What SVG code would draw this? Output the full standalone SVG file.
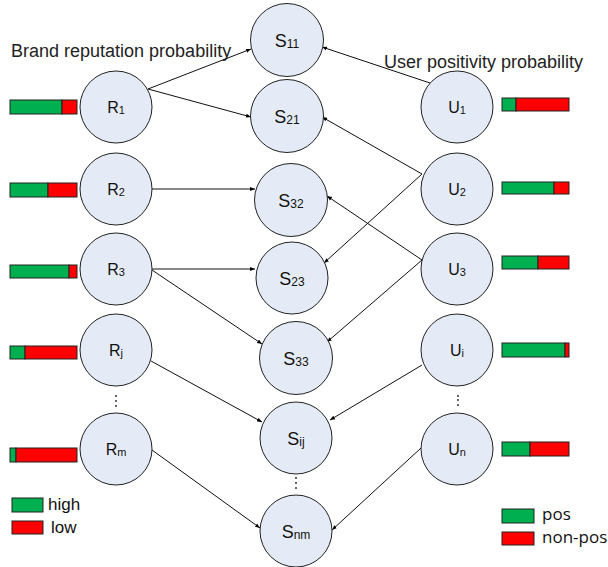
<svg xmlns="http://www.w3.org/2000/svg" width="608" height="567" viewBox="0 0 608 567">
<defs>
<marker id="ah" viewBox="0 0 10 10" refX="10" refY="5" markerWidth="5" markerHeight="5" orient="auto" markerUnits="userSpaceOnUse">
<path d="M0,1 L10,5 L0,9 Z" fill="#000"/>
</marker>
<style>
.nd{fill:#E5EBF6;stroke:#222;stroke-width:1}
.lb{font-family:"Liberation Sans",Arial,sans-serif;fill:#111;text-anchor:middle}
.sub{font-size:11px}
.subs{font-size:12px}
.ttl{font-family:"Liberation Sans",Arial,sans-serif;font-size:18px;fill:#222}
.g{fill:#00B050;stroke:#222;stroke-width:1}
.r{fill:#FF0000;stroke:#222;stroke-width:1}
.e{stroke:#111;stroke-width:1;fill:none;marker-end:url(#ah)}
.dot{fill:#333}
</style>
</defs>
<rect width="608" height="567" fill="#fff"/>
<text class="ttl" x="11" y="57">Brand reputation probability</text>
<text class="ttl" x="384" y="68">User positivity probability</text>

<g id="connectors">
<line class="e" x1="148" y1="89" x2="251" y2="49"/>
<line class="e" x1="148" y1="89" x2="251" y2="117"/>
<line class="e" x1="152" y1="189" x2="255" y2="189"/>
<line class="e" x1="430" y1="83" x2="322" y2="47"/>
<line class="e" x1="422" y1="174" x2="322" y2="117"/>
<line class="e" x1="422" y1="174" x2="324" y2="263"/>
<line class="e" x1="422" y1="260" x2="327" y2="196"/>
<line class="e" x1="422" y1="260" x2="327" y2="342"/>
<line class="e" x1="152" y1="269" x2="255" y2="269"/>
<line class="e" x1="152" y1="270" x2="262" y2="344"/>
<line class="e" x1="151" y1="361" x2="262" y2="422"/>
<line class="e" x1="152" y1="450" x2="260" y2="528"/>
<line class="e" x1="422" y1="365" x2="330" y2="420"/>
<line class="e" x1="421" y1="448" x2="332" y2="530"/>
</g>

<g id="R1"><circle class="nd" cx="116" cy="107" r="36"/><text class="lb" x="116" y="113" font-size="16">R<tspan class="sub" dy="1">1</tspan></text>
<rect class="g" x="10" y="100" width="52" height="14"/><rect class="r" x="62" y="100" width="15" height="14"/></g>
<g id="R2"><circle class="nd" cx="116" cy="189" r="36"/><text class="lb" x="116" y="195" font-size="16">R<tspan class="sub" dy="1">2</tspan></text>
<rect class="g" x="10" y="183" width="38" height="14"/><rect class="r" x="48" y="183" width="29" height="14"/></g>
<g id="R3"><circle class="nd" cx="116" cy="269" r="36"/><text class="lb" x="116" y="275" font-size="16">R<tspan class="sub" dy="1">3</tspan></text>
<rect class="g" x="10" y="265" width="59" height="13"/><rect class="r" x="69" y="265" width="8" height="13"/></g>
<g id="Rj"><circle class="nd" cx="116" cy="350" r="36"/><text class="lb" x="116" y="356" font-size="16">R<tspan class="sub" dy="1">j</tspan></text>
<rect class="g" x="10" y="346" width="15" height="13"/><rect class="r" x="25" y="346" width="52" height="13"/></g>
<g id="Rm"><circle class="nd" cx="116" cy="449" r="36"/><text class="lb" x="116" y="455" font-size="16">R<tspan class="sub" dy="1">m</tspan></text>
<rect class="g" x="10" y="448" width="6" height="14"/><rect class="r" x="16" y="448" width="61" height="14"/></g>
<g id="Rdots"><circle class="dot" cx="116" cy="396" r="1"/><circle class="dot" cx="116" cy="401" r="1"/><circle class="dot" cx="116" cy="406" r="1"/></g>

<g id="S11"><circle class="nd" cx="287" cy="40" r="36.5"/><text class="lb" x="287" y="47" font-size="18">S<tspan class="subs" dy="1">11</tspan></text></g>
<g id="S21"><circle class="nd" cx="287" cy="116" r="36.5"/><text class="lb" x="287" y="123" font-size="18">S<tspan class="subs" dy="1">21</tspan></text></g>
<g id="S32"><circle class="nd" cx="291" cy="200" r="36.5"/><text class="lb" x="291" y="207" font-size="18">S<tspan class="subs" dy="1">32</tspan></text></g>
<g id="S23"><circle class="nd" cx="292" cy="278" r="36"/><text class="lb" x="292" y="285" font-size="18">S<tspan class="subs" dy="1">23</tspan></text></g>
<g id="S33"><circle class="nd" cx="296" cy="358" r="36.5"/><text class="lb" x="296" y="365" font-size="18">S<tspan class="subs" dy="1">33</tspan></text></g>
<g id="Sij"><circle class="nd" cx="296" cy="438" r="36"/><text class="lb" x="296" y="445" font-size="18">S<tspan class="subs" dy="1">ij</tspan></text></g>
<g id="Sdots"><circle class="dot" cx="296" cy="478" r="1"/><circle class="dot" cx="296" cy="483" r="1"/><circle class="dot" cx="296" cy="488" r="1"/></g>
<g id="Snm"><circle class="nd" cx="296" cy="531" r="36"/><text class="lb" x="296" y="538" font-size="18">S<tspan class="subs" dy="1">nm</tspan></text></g>

<g id="U1"><circle class="nd" cx="457" cy="107" r="36"/><text class="lb" x="457" y="113" font-size="16">U<tspan class="sub" dy="1">1</tspan></text>
<rect class="g" x="502" y="98" width="14" height="13"/><rect class="r" x="516" y="98" width="53" height="13"/></g>
<g id="U2"><circle class="nd" cx="457" cy="189" r="36"/><text class="lb" x="457" y="195" font-size="16">U<tspan class="sub" dy="1">2</tspan></text>
<rect class="g" x="502" y="182" width="52" height="12"/><rect class="r" x="554" y="182" width="15" height="12"/></g>
<g id="U3"><circle class="nd" cx="457" cy="269" r="36"/><text class="lb" x="457" y="275" font-size="16">U<tspan class="sub" dy="1">3</tspan></text>
<rect class="g" x="502" y="256" width="36" height="13"/><rect class="r" x="538" y="256" width="31" height="13"/></g>
<g id="Ui"><circle class="nd" cx="457" cy="350" r="36"/><text class="lb" x="457" y="356" font-size="16">U<tspan class="sub" dy="1">i</tspan></text>
<rect class="g" x="502" y="343" width="63" height="14"/><rect class="r" x="565" y="343" width="4" height="14"/></g>
<g id="Udots"><circle class="dot" cx="458" cy="396" r="1"/><circle class="dot" cx="458" cy="400" r="1"/><circle class="dot" cx="458" cy="405" r="1"/></g>
<g id="Un"><circle class="nd" cx="457" cy="449" r="36"/><text class="lb" x="457" y="455" font-size="16">U<tspan class="sub" dy="1">n</tspan></text>
<rect class="g" x="502" y="442" width="28" height="14"/><rect class="r" x="530" y="442" width="39" height="14"/></g>

<g id="legend-left">
<rect class="g" x="12" y="498" width="31" height="14"/><text x="48" y="510" font-family="Liberation Sans,Arial,sans-serif" font-size="17" fill="#111">high</text>
<rect class="r" x="12" y="521" width="31" height="13"/><text x="51" y="533" font-family="Liberation Sans,Arial,sans-serif" font-size="17" fill="#111">low</text>
</g>
<g id="legend-right">
<rect class="g" x="502" y="509" width="32" height="14"/><text x="542" y="520" font-family="'Open Sans',sans-serif" font-size="17" fill="#111">pos</text>
<rect class="r" x="502" y="532" width="32" height="13"/><text x="542" y="543" font-family="'Open Sans',sans-serif" font-size="17" fill="#111">non-pos</text>
</g>
</svg>
